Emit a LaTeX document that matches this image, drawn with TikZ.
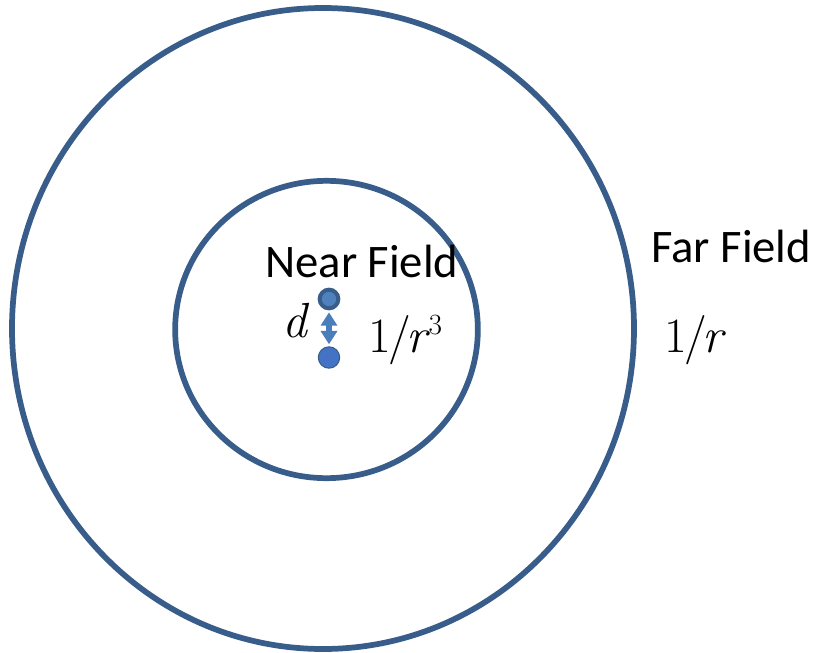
\documentclass[tikz,border=0pt]{standalone}
\usepackage{fontspec}
\newfontfamily\calib{Carlito}
\usetikzlibrary{arrows.meta,shapes.geometric}
\definecolor{ring}{HTML}{385D8A}
\definecolor{dotA}{HTML}{4F81BD}
\definecolor{dotB}{HTML}{4472C4}
\definecolor{arr}{HTML}{4A7EBB}
\newcommand{\mfont}{\rmfamily\fontsize{37}{42}\selectfont}
\newcommand{\invr}{1\kern-1.5pt/\kern-3.5pt{\itshape r}}
\tikzset{
  field/.style={ellipse,draw=ring,line width=4.3pt,inner sep=0pt},
  lbl/.style={inner sep=0pt,anchor=base west,font=\calib\fontsize{35}{42}\selectfont},
  mth/.style={inner sep=0pt,anchor=base west},
  dot/.style={circle,inner sep=0pt},
}
\begin{document}
\begin{tikzpicture}[x=0.75pt,y=-0.75pt]
\useasboundingbox (0,0) rectangle (814,653);
\node[field,minimum width=466.5pt,minimum height=480.75pt] (outer) at (323,328.5) {};
\node[field,minimum width=227pt,minimum height=223pt] (inner) at (326.5,329.5) {};
\node[lbl] (near) at (265,277) {Near Field};
\node[lbl] (far) at (651,262) {Far Field};
\node[dot,fill=dotA,draw=ring,line width=3pt,minimum size=14pt] (p1) at (329,299) {};
\node[dot,fill=dotB,draw=ring,line width=0.8pt,minimum size=16pt] (p2) at (329,357.5) {};
\draw[arr,line width=4.5pt,{Triangle[width=12pt,length=10pt]}-{Triangle[width=12pt,length=10pt]}] (p1.south) ++(0,2) coordinate (a1) (p2.north) ++(0,-2) coordinate (a2) (a1) -- (a2);
\node[mth] (d) at (282,337) {\mfont\itshape d};
\node[mth] (nr) at (368,352) {\mfont\invr\kern1pt\raisebox{13pt}{\rmfamily\fontsize{22}{24}\selectfont 3}};
\node[mth] (fr) at (664,352) {\mfont\invr};
\end{tikzpicture}
\end{document}
